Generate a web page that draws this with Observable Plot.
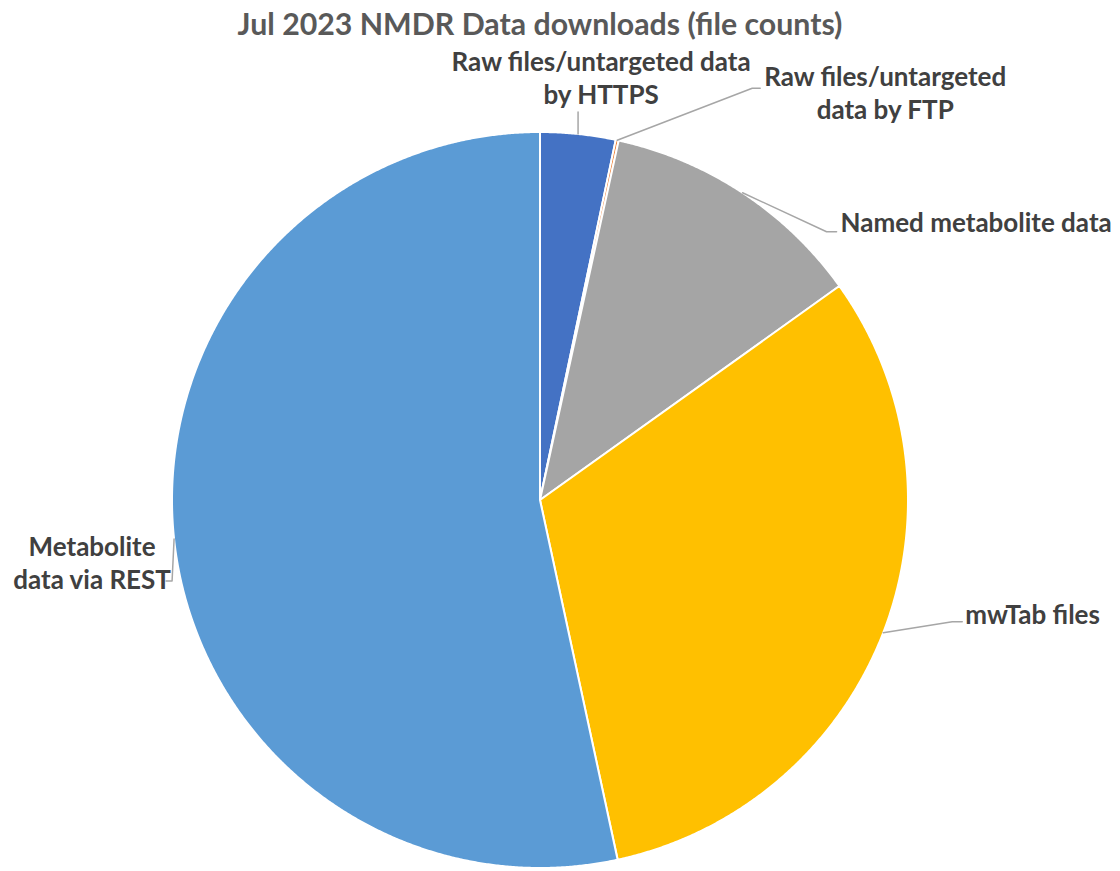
<!DOCTYPE html>
<html><head><meta charset="utf-8">
<script src="https://cdn.jsdelivr.net/npm/d3@7"></script>
<script src="https://cdn.jsdelivr.net/npm/@observablehq/plot@0.6"></script>
<style>
body{margin:0;background:#fff;}
#title{box-sizing:border-box;width:1080px;height:42px;padding-top:5px;text-align:center;font-family:Lato,sans-serif;font-weight:bold;font-size:30.3px;color:#595959;line-height:37px;white-space:nowrap;}
#chart svg{display:block;}
</style></head><body>
<div id="title">Jul 2023 NMDR Data downloads (file counts)</div>
<div id="chart"></div>
<script>
// ---- data ----
const categories = ["Raw files/untargeted data by HTTPS", "Raw files/untargeted data by FTP", "Named metabolite data", "mwTab files", "Metabolite data via REST"];
const labelTexts = ["Raw files/untargeted data\nby HTTPS", "Raw files/untargeted\ndata by FTP", "Named metabolite data", "mwTab files", "Metabolite\ndata via REST"];
const shares = [3.3, 0.13, 11.7, 31.5, 53.4];
const colors = ["#4472C4", "#ED7D31", "#A5A5A5", "#FFC000", "#5B9BD5"];

// ---- layout (px offsets from each slice's arc midpoint, y down) ----
const W = 1120, H = 829, CX = 539.5, CY = 457.5, R = 368;
const labelLayout = [
  {elbow: [[0, -22]], text: [23, -57], anchor: "middle"},
  {elbow: [[135, -52], [143, -52]], text: [268, -48.5], anchor: "middle"},
  {elbow: [[84, 39], [94, 39]], text: [98, 29], anchor: "start"},
  {elbow: [[69, -11], [79, -11]], text: [82, -19], anchor: "start"},
  {elbow: [[-2, 42], [-8, 42]], text: [-82, 23], anchor: "middle"}
];

const arcs = d3.pie().sort(null).startAngle(0).endAngle(2 * Math.PI)(shares);
const pt = (a, r) => ({x: r * Math.sin(a), y: r * Math.cos(a)});

const slicePts = [];
arcs.forEach((a, i) => {
  const cat = categories[i];
  slicePts.push({cat, x: 0, y: 0});
  const step = Math.PI / 720;
  for (let t = a.startAngle; t < a.endAngle; t += step) slicePts.push({cat, ...pt(t, 1)});
  slicePts.push({cat, ...pt(a.endAngle, 1)});
  slicePts.push({cat, x: 0, y: 0});
});

const leaderPts = [];
const labelRows = [];
arcs.forEach((a, i) => {
  const cat = categories[i];
  const mid = (a.startAngle + a.endAngle) / 2;
  const p0 = pt(mid, 1);
  const L = labelLayout[i];
  leaderPts.push({cat, ...p0});
  L.elbow.forEach(([dx, dy]) => leaderPts.push({cat, x: p0.x + dx / R, y: p0.y - dy / R}));
  labelRows.push({cat, text: labelTexts[i], anchor: L.anchor, x: p0.x + L.text[0] / R, y: p0.y - L.text[1] / R});
});

const textStyle = {x: "x", y: "y", text: "text", fill: "#404040", fontSize: 26, fontWeight: "bold", lineHeight: 1.27, fontFamily: "Lato, sans-serif"};

const chart = Plot.plot({
  width: W, height: H, margin: 0,
  x: {domain: [-CX / R, (W - CX) / R], axis: null},
  y: {domain: [-(H - CY) / R, CY / R], axis: null},
  color: {domain: categories, range: colors},
  marks: [
    Plot.line(slicePts, {x: "x", y: "y", z: "cat", fill: "cat", stroke: "white", strokeWidth: 2, strokeLinejoin: "round"}),
    Plot.line(leaderPts, {x: "x", y: "y", z: "cat", stroke: "#A6A6A6", strokeWidth: 1.5}),
    Plot.text(labelRows, {...textStyle, filter: d => d.anchor === "middle", textAnchor: "middle"}),
    Plot.text(labelRows, {...textStyle, filter: d => d.anchor === "start", textAnchor: "start"})
  ]
});
document.getElementById("chart").appendChild(chart);
</script>
</body></html>
